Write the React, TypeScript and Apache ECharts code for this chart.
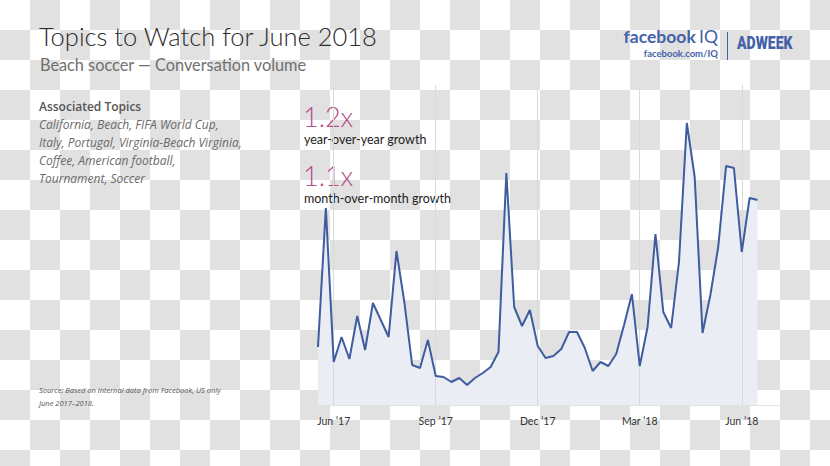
import React, { useEffect, useRef } from "react";
import * as echarts from "echarts";

// Weekly categories (Sundays)
const weeks: string[] = [
  "2017-05-21", "2017-05-28", "2017-06-04", "2017-06-11", "2017-06-18", "2017-06-25",
  "2017-07-02", "2017-07-09", "2017-07-16", "2017-07-23", "2017-07-30",
  "2017-08-06", "2017-08-13", "2017-08-20", "2017-08-27",
  "2017-09-03", "2017-09-10", "2017-09-17", "2017-09-24",
  "2017-10-01", "2017-10-08", "2017-10-15", "2017-10-22", "2017-10-29",
  "2017-11-05", "2017-11-12", "2017-11-19", "2017-11-26",
  "2017-12-03", "2017-12-10", "2017-12-17", "2017-12-24", "2017-12-31",
  "2018-01-07", "2018-01-14", "2018-01-21", "2018-01-28",
  "2018-02-04", "2018-02-11", "2018-02-18", "2018-02-25",
  "2018-03-04", "2018-03-11", "2018-03-18", "2018-03-25",
  "2018-04-01", "2018-04-08", "2018-04-15", "2018-04-22", "2018-04-29",
  "2018-05-06", "2018-05-13", "2018-05-20", "2018-05-27",
  "2018-06-03", "2018-06-10", "2018-06-17",
];
// Axis continues a few weeks past the data
const trailingWeeks: string[] = ["2018-06-24", "2018-07-01", "2018-07-08"];

// Conversation volume (relative units)
const volume: number[] = [
  58, 197, 43, 68, 46, 89, 55, 102, 85, 68, 154, 103, 40, 37, 65, 29, 28, 23, 27,
  20, 27, 32, 38, 53, 232, 98, 79, 95, 59, 47, 49, 56, 73, 73, 57, 34, 43, 39, 51,
  80, 111, 39, 78, 171, 93, 77, 143, 282, 228, 72, 110, 158, 239, 237, 153, 207, 205,
];

const tickLabels: Record<string, string> = {
  "2017-06-04": "Jun \u201917",
  "2017-09-03": "Sep \u201917",
  "2017-12-03": "Dec \u201917",
  "2018-03-04": "Mar \u201918",
  "2018-06-03": "Jun \u201918",
};

const topics: string[] = [
  "California, Beach, FIFA World Cup,",
  "Italy, Portugal, Virginia-Beach Virginia,",
  "Coffee, American football,",
  "Tournament, Soccer",
];

const growthYoY = "1.2x";
const growthMoM = "1.1x";

export default function App() {
  const ref = useRef<HTMLDivElement>(null);

  useEffect(() => {
    if (!ref.current) return;
    const chart = echarts.init(ref.current, undefined, { renderer: "svg" });
    const cats = [...weeks, ...trailingWeeks];
    const data = [...volume, ...trailingWeeks.map(() => null)];
    const blue = "#4561a8";
    const pink = "#b84d88";

    const graphics: any[] = [
      {
        type: "text", left: 39, top: 23,
        style: { text: "Topics to Watch for June 2018", font: "300 25.5px Lato", fill: "#2b2b2b" },
      },
      {
        type: "text", left: 40, top: 56,
        style: { text: "Beach soccer \u2014 Conversation volume", font: "16.3px Lato", fill: "#707070" },
      },
      {
        type: "text", right: 112, top: 27,
        style: {
          text: "{a|facebook} {b|IQ}",
          rich: {
            a: { font: "bold 17.5px Lato", fill: blue },
            b: { font: "17.5px Lato", fill: blue },
          },
        },
      },
      {
        type: "text", right: 112, top: 48,
        style: { text: "facebook.com/IQ", font: "bold 9.5px Lato", fill: blue },
      },
      {
        type: "line",
        shape: { x1: 727.5, y1: 32, x2: 727.5, y2: 60 },
        style: { stroke: blue, lineWidth: 1 },
      },
      {
        type: "text", x: 737, y: 43, scaleX: 0.78,
        style: {
          text: "ADWEEK", font: "900 18px Roboto", fill: blue,
          textVerticalAlign: "middle", verticalAlign: "middle",
        },
      },
      {
        type: "text", left: 39, top: 100,
        style: { text: "Associated Topics", font: "600 12px 'Open Sans'", fill: "#555555" },
      },
      ...topics.map((t, i) => ({
        type: "text", left: 39, top: 118 + i * 18,
        style: { text: t, font: "italic 12px 'Open Sans'", fill: "#6a6a6a" },
      })),
      {
        type: "text", left: 39, top: 383,
        style: {
          text: "Source: Based on internal data from Facebook, US only\nJune 2017\u20132018.",
          font: "italic 7.5px 'Open Sans'", fill: "#555555", lineHeight: 13,
        },
      },
      {
        type: "text", left: 303, top: 103,
        style: { text: growthYoY, font: "300 27px Lato", fill: pink },
      },
      {
        type: "text", left: 304, top: 133,
        style: { text: "year-over-year growth", font: "12.5px Lato", fill: "#222222" },
      },
      {
        type: "text", left: 303, top: 162,
        style: { text: growthMoM, font: "300 27px Lato", fill: pink },
      },
      {
        type: "text", left: 304, top: 192,
        style: { text: "month-over-month growth", font: "12.5px Lato", fill: "#222222" },
      },
    ];

    chart.setOption({
      animation: false,
      grid: { left: 318, right: 49, top: 85, bottom: 61 },
      xAxis: {
        type: "category",
        data: cats,
        boundaryGap: false,
        z: 2,
        axisLine: { show: true, lineStyle: { color: "#e3e3e3", width: 1 } },
        axisTick: { show: false },
        splitLine: {
          show: true,
          interval: (_i: number, v: string) => v in tickLabels,
          lineStyle: { color: "#d9d9d9", width: 1 },
        },
        axisLabel: {
          interval: (_i: number, v: string) => v in tickLabels,
          formatter: (v: string) => tickLabels[v] || "",
          color: "#333333",
          fontFamily: "Lato",
          fontSize: 10.5,
          margin: 10,
        },
      },
      yAxis: {
        type: "value",
        min: 0,
        max: 320,
        show: false,
        splitLine: { show: false },
      },
      series: [
        {
          type: "line",
          data,
          z: 1,
          silent: true,
          showSymbol: false,
          lineStyle: { width: 0, opacity: 0 },
          areaStyle: { color: "#ebedf5", opacity: 1 },
        },
        {
          type: "line",
          data,
          z: 3,
          silent: true,
          showSymbol: false,
          lineStyle: { color: "#3f5c9e", width: 2 },
        },
      ],
      graphic: graphics,
    });
    return () => chart.dispose();
  }, []);

  return (
    <div
      style={{
        position: "absolute",
        left: 0,
        top: 0,
        width: 830,
        height: 466,
        backgroundColor: "#ffffff",
        backgroundImage: "repeating-conic-gradient(#e1e1e1 0 25%, #ffffff 0 50%)",
        backgroundSize: "60px 60px",
        backgroundPosition: "0 0",
      }}
    >
      <div ref={ref} style={{ width: 830, height: 466 }} />
    </div>
  );
}
